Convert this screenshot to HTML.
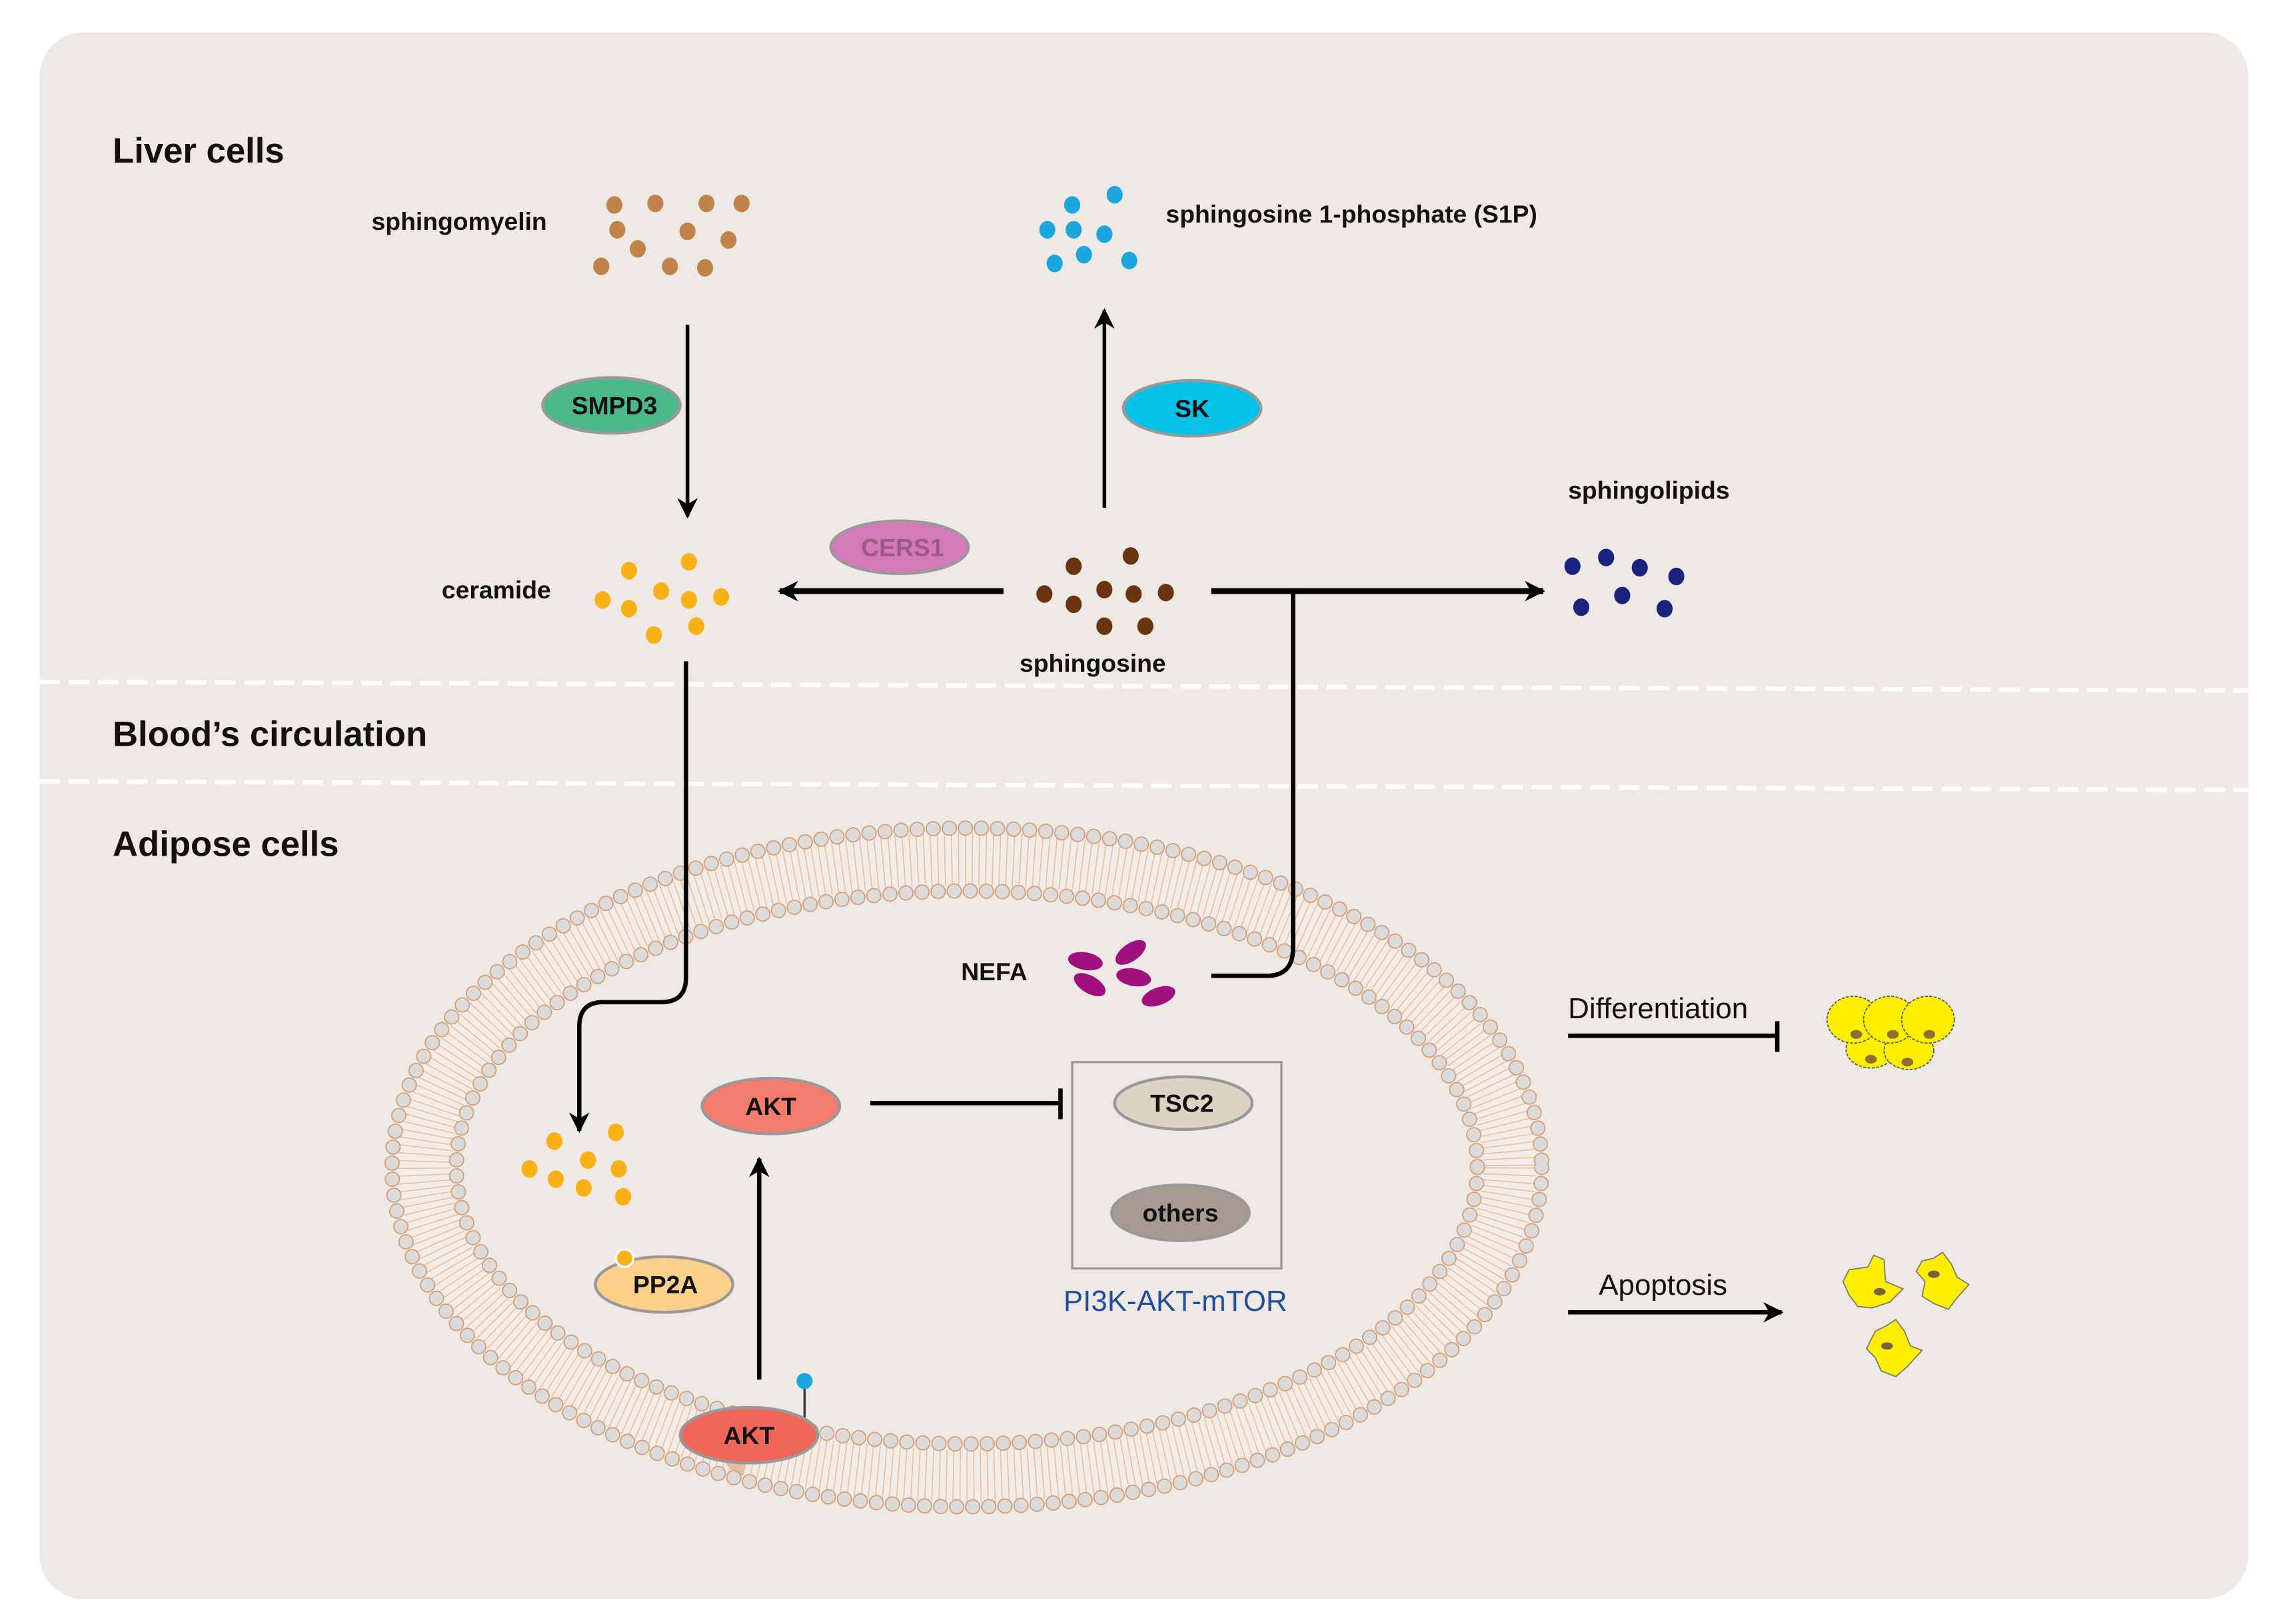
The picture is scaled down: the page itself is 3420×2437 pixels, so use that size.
<!DOCTYPE html>
<html><head><meta charset="utf-8"><style>
html,body{margin:0;padding:0;background:#fff;}
svg{display:block;}
text{font-family:"Liberation Sans",Arial,sans-serif;}
.b{font-weight:bold;font-size:17px;fill:#111;}
.e{font-weight:bold;font-size:17px;fill:#111;text-anchor:middle;}
.h{font-weight:bold;font-size:24px;fill:#111;}
</style></head><body>
<svg width="3420" height="2437" viewBox="0 0 1558 1110" xmlns="http://www.w3.org/2000/svg">
<defs>
<marker id="ah2" viewBox="0 0 10 10" refX="9" refY="5" markerWidth="14" markerHeight="14" orient="auto" markerUnits="userSpaceOnUse">
<path d="M0,0 L10,5 L0,10 L3,5z" fill="#000"/></marker>
</defs>
<rect x="0" y="0" width="1558" height="1110" fill="#fff"/>
<rect x="27" y="22" width="1510" height="1071" rx="30" fill="#efe9e5"/>
<path d="M27,466 L1537,472" stroke="#fff" stroke-width="3" stroke-dasharray="14 6" fill="none"/>
<path d="M27,534 L1537,540" stroke="#fff" stroke-width="3" stroke-dasharray="14 6" fill="none"/>
<text class="h" x="77" y="111">Liver cells</text>
<text class="h" x="77" y="510">Blood’s circulation</text>
<text class="h" x="77" y="585">Adipose cells</text>

<!-- membrane -->
<ellipse cx="661" cy="798" rx="371" ry="211" fill="none" stroke="#f3ebe5" stroke-width="40"/>
<ellipse cx="661" cy="798" rx="371" ry="211" fill="none" stroke="#d9a070" stroke-width="36" stroke-dasharray="0.7 4" opacity="0.6"/>
<ellipse cx="661" cy="798" rx="393" ry="232" fill="none" stroke="#d4a07a" stroke-width="10.5" stroke-dasharray="0 11" stroke-linecap="round"/>
<ellipse cx="661" cy="798" rx="393" ry="232" fill="none" stroke="#dddbd9" stroke-width="8.8" stroke-dasharray="0 11" stroke-linecap="round"/>
<ellipse cx="661" cy="798" rx="349" ry="189" fill="none" stroke="#d4a07a" stroke-width="10.5" stroke-dasharray="0 11" stroke-linecap="round"/>
<ellipse cx="661" cy="798" rx="349" ry="189" fill="none" stroke="#dddbd9" stroke-width="8.8" stroke-dasharray="0 11" stroke-linecap="round"/>

<!-- sphingomyelin -->
<text class="b" x="254" y="157">sphingomyelin</text>
<g fill="#c0834a">
<ellipse cx="420" cy="140" rx="5.5" ry="6"/><ellipse cx="448" cy="139" rx="5.5" ry="6"/><ellipse cx="483" cy="139" rx="5.5" ry="6"/><ellipse cx="507" cy="139" rx="5.5" ry="6"/>
<ellipse cx="422" cy="157" rx="5.5" ry="6"/><ellipse cx="470" cy="158" rx="5.5" ry="6"/><ellipse cx="498" cy="164" rx="5.5" ry="6"/><ellipse cx="436" cy="170" rx="5.5" ry="6"/>
<ellipse cx="411" cy="182" rx="5.5" ry="6"/><ellipse cx="458" cy="182" rx="5.5" ry="6"/><ellipse cx="482" cy="183" rx="5.5" ry="6"/></g>
<!-- S1P -->
<text class="b" x="797" y="152">sphingosine 1-phosphate (S1P)</text>
<g fill="#1aa7e0">
<ellipse cx="733" cy="140" rx="5.5" ry="6"/><ellipse cx="762" cy="133" rx="5.5" ry="6"/><ellipse cx="716" cy="157" rx="5.5" ry="6"/><ellipse cx="734" cy="157" rx="5.5" ry="6"/>
<ellipse cx="755" cy="160" rx="5.5" ry="6"/><ellipse cx="741" cy="174" rx="5.5" ry="6"/><ellipse cx="721" cy="180" rx="5.5" ry="6"/><ellipse cx="772" cy="178" rx="5.5" ry="6"/></g>

<line x1="470" y1="222" x2="470" y2="353" stroke="#000" stroke-width="2.5" marker-end="url(#ah2)"/>
<ellipse cx="418" cy="277" rx="47" ry="19" fill="#4cb88a" stroke="#999" stroke-width="2"/>
<text class="e" x="420" y="283">SMPD3</text>
<line x1="755" y1="347" x2="755" y2="212" stroke="#000" stroke-width="2.5" marker-end="url(#ah2)"/>
<ellipse cx="815" cy="279" rx="47" ry="19" fill="#05c3e6" stroke="#999" stroke-width="2"/>
<text class="e" x="815" y="285">SK</text>

<text class="b" x="1072" y="341">sphingolipids</text>
<g fill="#1a237e">
<ellipse cx="1075" cy="387" rx="5.5" ry="6"/><ellipse cx="1098" cy="381" rx="5.5" ry="6"/><ellipse cx="1121" cy="388" rx="5.5" ry="6"/><ellipse cx="1146" cy="394" rx="5.5" ry="6"/>
<ellipse cx="1081" cy="415" rx="5.5" ry="6"/><ellipse cx="1109" cy="407" rx="5.5" ry="6"/><ellipse cx="1138" cy="416" rx="5.5" ry="6"/></g>

<text class="b" x="302" y="409">ceramide</text>
<g fill="#f9b115">
<ellipse cx="430" cy="390" rx="5.5" ry="6"/><ellipse cx="471" cy="384" rx="5.5" ry="6"/><ellipse cx="412" cy="410" rx="5.5" ry="6"/><ellipse cx="452" cy="404" rx="5.5" ry="6"/>
<ellipse cx="471" cy="410" rx="5.5" ry="6"/><ellipse cx="493" cy="408" rx="5.5" ry="6"/><ellipse cx="430" cy="416" rx="5.5" ry="6"/><ellipse cx="476" cy="428" rx="5.5" ry="6"/><ellipse cx="447" cy="434" rx="5.5" ry="6"/></g>

<ellipse cx="615" cy="374" rx="47" ry="18" fill="#d47ab8" stroke="#999" stroke-width="2"/>
<text class="e" x="617" y="380" style="fill:#9c5a88">CERS1</text>
<line x1="686" y1="404" x2="533" y2="404" stroke="#000" stroke-width="4" marker-end="url(#ah2)"/>

<g fill="#6b3410">
<ellipse cx="734" cy="387" rx="5.5" ry="6"/><ellipse cx="773" cy="380" rx="5.5" ry="6"/><ellipse cx="714" cy="406" rx="5.5" ry="6"/><ellipse cx="755" cy="403" rx="5.5" ry="6"/>
<ellipse cx="775" cy="406" rx="5.5" ry="6"/><ellipse cx="797" cy="405" rx="5.5" ry="6"/><ellipse cx="734" cy="413" rx="5.5" ry="6"/><ellipse cx="755" cy="428" rx="5.5" ry="6"/><ellipse cx="783" cy="428" rx="5.5" ry="6"/></g>
<text class="b" x="697" y="459">sphingosine</text>
<line x1="828" y1="404" x2="1055" y2="404" stroke="#000" stroke-width="4" marker-end="url(#ah2)"/>
<path d="M884,404 L884,648 Q884,667 866,667 L828,667" stroke="#000" stroke-width="3" fill="none"/>

<path d="M469,452 L469,668 Q469,685 452,685 L412,685 Q396,685 396,702 L396,773" stroke="#000" stroke-width="3" fill="none" marker-end="url(#ah2)"/>

<text class="b" x="657" y="670">NEFA</text>
<g fill="#a0117f">
<ellipse cx="742" cy="657" rx="12" ry="6" transform="rotate(10 742 657)"/>
<ellipse cx="773" cy="651" rx="12" ry="6" transform="rotate(-35 773 651)"/>
<ellipse cx="775" cy="668" rx="12" ry="6" transform="rotate(10 775 668)"/>
<ellipse cx="745" cy="673" rx="12" ry="6" transform="rotate(30 745 673)"/>
<ellipse cx="792" cy="681" rx="12" ry="6" transform="rotate(-20 792 681)"/></g>

<g fill="#f9b115">
<ellipse cx="379" cy="780" rx="5.5" ry="6"/><ellipse cx="421" cy="774" rx="5.5" ry="6"/><ellipse cx="362" cy="799" rx="5.5" ry="6"/><ellipse cx="402" cy="793" rx="5.5" ry="6"/>
<ellipse cx="423" cy="799" rx="5.5" ry="6"/><ellipse cx="380" cy="806" rx="5.5" ry="6"/><ellipse cx="399" cy="812" rx="5.5" ry="6"/><ellipse cx="426" cy="818" rx="5.5" ry="6"/></g>

<ellipse cx="454" cy="878" rx="47" ry="19" fill="#fdd08a" stroke="#999" stroke-width="2"/>
<circle cx="427" cy="860" r="6" fill="#f9b115" stroke="#fff" stroke-width="1.5"/>
<text class="e" x="455" y="884">PP2A</text>

<ellipse cx="527" cy="756" rx="47" ry="19" fill="#f47c6c" stroke="#999" stroke-width="2"/>
<text class="e" x="527" y="762">AKT</text>
<line x1="519" y1="943" x2="519" y2="792" stroke="#000" stroke-width="3" marker-end="url(#ah2)"/>
<line x1="550" y1="948" x2="550" y2="970" stroke="#333" stroke-width="1.5"/>
<circle cx="550" cy="944" r="5.5" fill="#1aa7e0"/>
<ellipse cx="512" cy="981" rx="47" ry="19" fill="#f0675a" stroke="#999" stroke-width="2"/>
<text class="e" x="512" y="987">AKT</text>

<line x1="595" y1="754" x2="725" y2="754" stroke="#000" stroke-width="3"/>
<line x1="725" y1="744" x2="725" y2="765" stroke="#000" stroke-width="3"/>
<rect x="733" y="726" width="143" height="141" fill="none" stroke="#999" stroke-width="1.5"/>
<ellipse cx="809" cy="754" rx="47" ry="18" fill="#ddd3c2" stroke="#999" stroke-width="2"/>
<text class="e" x="808" y="760">TSC2</text>
<ellipse cx="807" cy="829" rx="47" ry="19" fill="#a89a92" stroke="#999" stroke-width="2"/>
<text class="e" x="807" y="835">others</text>
<text x="727" y="896" style="font-size:20px;fill:#1f4ea0">PI3K-AKT-mTOR</text>

<text x="1072" y="696" style="font-size:20px;fill:#111">Differentiation</text>
<line x1="1072" y1="708" x2="1215" y2="708" stroke="#000" stroke-width="3"/>
<line x1="1215" y1="698" x2="1215" y2="719" stroke="#000" stroke-width="3"/>
<g stroke="#555" stroke-width="0.8" stroke-dasharray="2 1" fill="#ffee00">
<ellipse cx="1279" cy="717" rx="17" ry="13"/><ellipse cx="1305" cy="718" rx="17" ry="13"/>
<ellipse cx="1267" cy="697" rx="18" ry="16"/><ellipse cx="1292" cy="697" rx="18" ry="16"/><ellipse cx="1318" cy="697" rx="18" ry="16"/></g>
<g fill="#8c7030"><ellipse cx="1269" cy="707" rx="4" ry="3"/><ellipse cx="1294" cy="707" rx="4" ry="3"/><ellipse cx="1319" cy="707" rx="4" ry="3"/><ellipse cx="1279" cy="724" rx="4" ry="3"/><ellipse cx="1304" cy="726" rx="4" ry="3"/></g>

<text x="1093" y="885" style="font-size:20px;fill:#111">Apoptosis</text>
<line x1="1072" y1="897" x2="1218" y2="897" stroke="#000" stroke-width="3" marker-end="url(#ah2)"/>
<g fill="#ffee00" stroke="#777" stroke-width="0.8">
<path d="M1264,868 L1277,866 L1281,858 L1288,861 L1289,876 L1301,881 L1292,890 L1280,894 L1270,893 L1264,885 L1260,876 Z"/>
<path d="M1314,862 L1322,860 L1328,856 L1334,864 L1338,873 L1346,878 L1338,887 L1332,895 L1322,891 L1314,886 L1316,876 L1310,869 Z"/>
<path d="M1282,910 L1290,906 L1296,902 L1302,910 L1306,920 L1314,923 L1304,934 L1296,941 L1286,937 L1282,928 L1276,922 Z"/></g>
<g fill="#7a6040"><ellipse cx="1285" cy="883" rx="4" ry="2.5"/><ellipse cx="1322" cy="871" rx="4" ry="2.5"/><ellipse cx="1290" cy="920" rx="4" ry="2.5"/></g>
</svg>
</body></html>
